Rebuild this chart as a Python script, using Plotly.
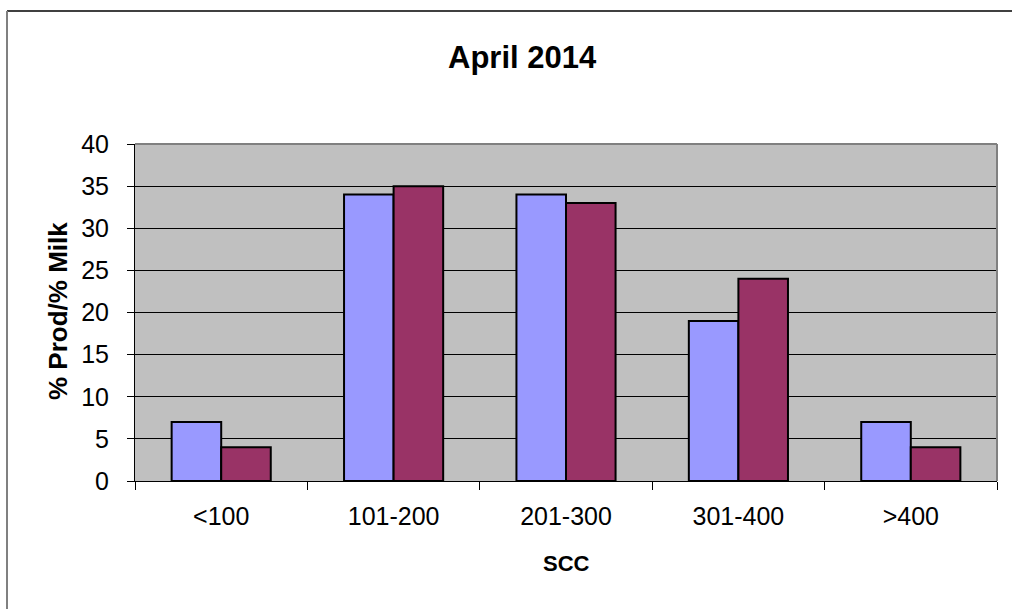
import plotly.graph_objects as go

categories = ["<100", "101-200", "201-300", "301-400", ">400"]
prod_pct = [7, 34, 34, 19, 7]
milk_pct = [4, 35, 33, 24, 4]
y_ticks = [0, 5, 10, 15, 20, 25, 30, 35, 40]

FONT = "Liberation Sans, Arial, sans-serif"
W, H = 1012, 609
L, R, T, B = 135, 15, 144, 128
pw, ph = W - L - R, H - T - B


def px_x(p):
    return (p - L) / pw


def px_y(p):
    return (H - B - p) / ph


fig = go.Figure()
fig.add_trace(go.Bar(x=categories, y=prod_pct, name="% Prod",
                     marker=dict(color="#9999FF", line=dict(color="black", width=2))))
fig.add_trace(go.Bar(x=categories, y=milk_pct, name="% Milk",
                     marker=dict(color="#993366", line=dict(color="black", width=2))))

fig.update_layout(
    width=W, height=H,
    margin=dict(l=L, r=R, t=T, b=B),
    paper_bgcolor="white", plot_bgcolor="#C0C0C0",
    barmode="group", bargap=0.425, bargroupgap=0,
    showlegend=False,
    font=dict(family=FONT, size=25, color="black"),
    xaxis=dict(showline=True, linecolor="black", linewidth=1,
               ticks="outside", ticklen=8, tickcolor="black", tickson="boundaries",
               showgrid=False, tickfont=dict(size=25), ticklabelstandoff=13),
    yaxis=dict(range=[0, 40], tickvals=y_ticks, showline=True, linecolor="black", linewidth=1,
               ticks="outside", ticklen=7, tickcolor="black",
               showgrid=True, gridcolor="black", gridwidth=1, zeroline=False,
               tickfont=dict(size=25), ticklabelstandoff=13),
)

# titles as annotations positioned in pixels
fig.add_annotation(text="<b>April 2014</b>", xref="paper", yref="paper",
                   x=px_x(522), y=px_y(57), xanchor="center", yanchor="middle",
                   showarrow=False, font=dict(size=31, family=FONT))
fig.add_annotation(text="<b>SCC</b>", xref="paper", yref="paper",
                   x=px_x(566), y=px_y(563), xanchor="center", yanchor="middle",
                   showarrow=False, font=dict(size=22, family=FONT))
fig.add_annotation(text="<b>% Prod/% Milk</b>", xref="paper", yref="paper",
                   x=px_x(58), y=px_y(311), xanchor="center", yanchor="middle",
                   textangle=-90, showarrow=False, font=dict(size=26, family=FONT))

# plot-area border (top/right in gray)
fig.add_shape(type="line", xref="paper", yref="paper", x0=0, x1=1, y0=1, y1=1,
              line=dict(color="#808080", width=2), layer="above")
fig.add_shape(type="line", xref="paper", yref="paper", x0=1, x1=1, y0=0, y1=1,
              line=dict(color="#808080", width=2), layer="above")

# outer chart border (only top and left visible)
fig.add_shape(type="line", xref="paper", yref="paper", x0=px_x(7), x1=px_x(W), y0=px_y(11), y1=px_y(11),
              line=dict(color="#404040", width=2), layer="above")
fig.add_shape(type="line", xref="paper", yref="paper", x0=px_x(7), x1=px_x(7), y0=px_y(11), y1=px_y(H),
              line=dict(color="#808080", width=2), layer="above")

fig.write_html("out.html", config={"displayModeBar": False},
               post_script="document.body.style.margin='0';document.body.style.overflow='hidden';")
